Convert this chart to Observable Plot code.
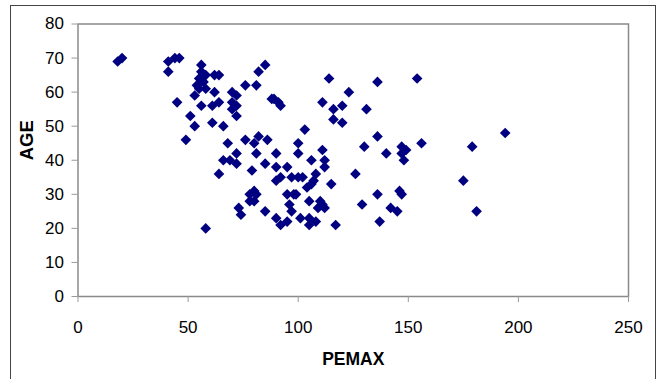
<!DOCTYPE html>
<html>
<head>
<meta charset="utf-8">
<script src="https://cdn.jsdelivr.net/npm/d3@7"></script>
<script src="https://cdn.jsdelivr.net/npm/@observablehq/plot@0.6"></script>
<style>
  html, body { margin: 0; padding: 0; background: #fff; overflow: hidden; }
  #wrap { position: relative; width: 660px; height: 379px; }
  #outer { position: absolute; left: 10px; top: 5px; width: 646px; height: 420px; border: 1px solid #444; box-sizing: border-box; pointer-events: none; }
  svg { display: block; }
</style>
</head>
<body>
<div id="wrap"><div id="outer"></div></div>
<script>
const pemax = [18, 20, 41, 44, 46, 41, 45, 49, 51, 53, 53, 54, 55, 55, 56, 56, 57, 58, 58, 56,
  61, 62, 62, 64, 61, 64, 66, 58, 64, 66, 69, 72, 68, 72, 70, 72, 70, 72, 70, 72,
  73, 74, 76, 80, 82, 86, 81, 79, 85, 76, 81, 82, 85, 88, 89, 91, 92, 78, 80, 81,
  78, 80, 85, 90, 90, 95, 90, 92, 97, 100, 102, 95, 98, 96, 97, 90, 92, 95, 101, 105,
  105, 108, 100, 100, 103, 106, 111, 112, 112, 108, 107, 106, 104, 115, 105, 110, 111, 109, 112, 111,
  114, 116, 120, 116, 120, 123, 131, 136, 154, 136, 130, 140, 147, 149, 147, 148, 156, 179, 194, 126,
  175, 136, 146, 147, 129, 142, 145, 137, 117, 181, 99];
const age = [69, 70, 69, 70, 70, 66, 57, 46, 53, 50, 59, 62, 61, 64, 68, 66, 63, 65, 61, 56,
  56, 60, 65, 65, 51, 57, 50, 20, 36, 40, 40, 39, 45, 42, 60, 59, 57, 56, 55, 53,
  26, 24, 46, 45, 47, 46, 42, 37, 39, 62, 62, 66, 68, 58, 58, 57, 56, 30, 31, 30,
  28, 28, 25, 42, 38, 38, 34, 35, 35, 35, 35, 30, 30, 27, 25, 23, 21, 22, 23, 23,
  21, 22, 45, 42, 49, 40, 43, 40, 38, 36, 34, 33, 32, 33, 28, 28, 27, 26, 26, 57,
  64, 55, 56, 52, 51, 60, 55, 63, 64, 47, 44, 42, 44, 43, 42, 40, 45, 44, 48, 36,
  34, 30, 31, 30, 27, 26, 25, 22, 21, 25, 30];
const xTicks = [0, 50, 100, 150, 200, 250];
const yTicks = [0, 10, 20, 30, 40, 50, 60, 70, 80];
const xTitle = "PEMAX";
const yTitle = "AGE";

const data = pemax.map((p, i) => ({pemax: p, age: age[i]}));

const chart = Plot.plot({
  width: 660,
  height: 379,
  marginLeft: 77.5,
  marginRight: 32,
  marginTop: 23.5,
  marginBottom: 83,
  style: {fontFamily: "'Liberation Sans', Arial, sans-serif", fontSize: "17px", color: "black", background: "transparent"},
  x: {domain: [0, 250]},
  y: {domain: [0, 80]},
  marks: [
    Plot.frame({stroke: "#8a8a8a", strokeWidth: 1.5}),
    Plot.axisX(xTicks, {tickSize: 6, tickPadding: 18, stroke: "#9a9a9a", fill: "black", label: null, fontSize: 17}),
    Plot.axisY(yTicks, {tickSize: 6, tickPadding: 8, stroke: "#9a9a9a", fill: "black", label: null, fontSize: 17}),
    Plot.dot(data, {x: "pemax", y: "age", symbol: "diamond2", r: 4.8, fill: "#000080", stroke: "none"}),
    Plot.text([xTitle], {text: d => d, frameAnchor: "bottom", dy: 68, fontWeight: "bold", fontSize: 17.5, fill: "black"}),
    Plot.text([yTitle], {text: d => d, frameAnchor: "left", dx: -50.5, rotate: -90, fontWeight: "bold", fontSize: 18.5, fill: "black"})
  ]
});
document.getElementById("wrap").appendChild(chart);
</script>
</body>
</html>
